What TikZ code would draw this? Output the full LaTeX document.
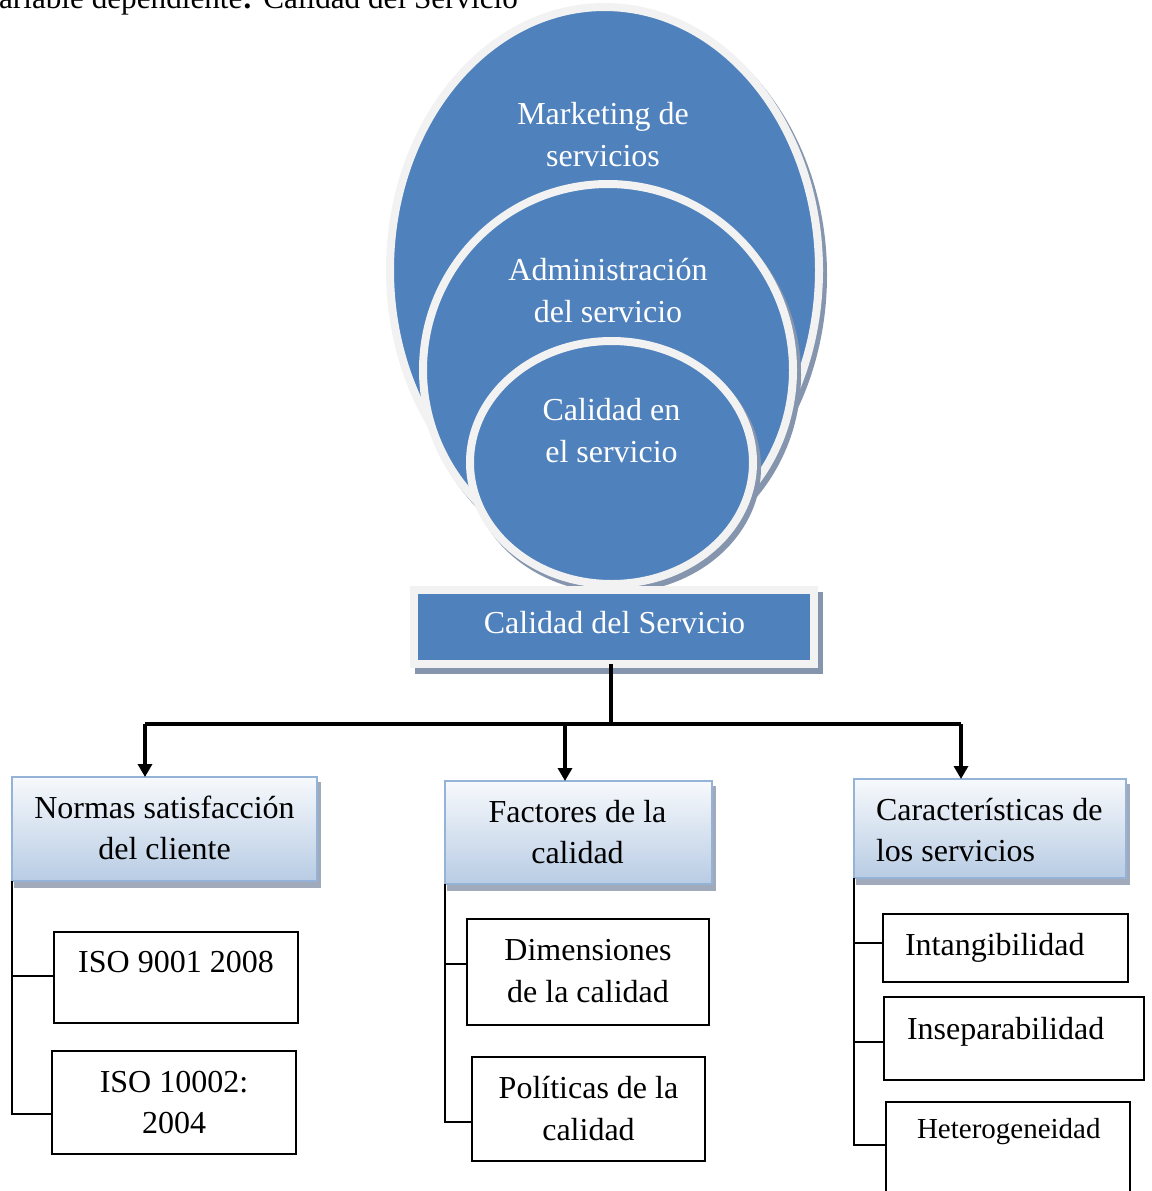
\documentclass[tikz,border=0pt]{standalone}
\usepackage{fontspec}
\setmainfont{Liberation Serif}
\usetikzlibrary{arrows.meta,shapes.geometric}
\definecolor{smblue}{HTML}{4F81BD}
\definecolor{smrim}{HTML}{F2F2F2}
\definecolor{smshade}{HTML}{8595AD}
\definecolor{lvlborder}{HTML}{95B3D7}
\definecolor{lvltop}{HTML}{F7F9FC}
\definecolor{lvlbot}{HTML}{B8CCE4}
\definecolor{lvlshade}{HTML}{A0AABA}
\begin{document}
\begin{tikzpicture}[x=1pt,y=-1pt,
  every node/.style={inner sep=0pt,outer sep=0pt},
  txt/.style={font=\fontsize{32}{42}\selectfont,anchor=base},
  wtxt/.style={txt,text=white},
  ring/.style={ellipse,fill=smblue,draw=smrim,line width=8pt,
    preaction={fill=smshade,draw=smshade,line width=8pt,
      transform canvas={xshift=4pt,yshift=-5pt}}},
  hub/.style={rectangle,fill=smblue,draw=smrim,line width=8pt,
    preaction={fill=smshade,draw=smshade,line width=8pt,
      transform canvas={xshift=4.5pt,yshift=-5.5pt}}},
  lvl/.style={rectangle,anchor=north west,draw=lvlborder,line width=2.5pt,
    top color=lvltop,bottom color=lvlbot,
    preaction={fill=lvlshade,draw=lvlshade,line width=2.5pt,
      transform canvas={xshift=3pt,yshift=-6pt}}},
  leaf/.style={rectangle,anchor=north west,draw=black,line width=2.5pt,fill=white},
  trunk/.style={draw=black,line width=3.5pt},
  arr/.style={trunk,-{Triangle[width=14pt,length=13pt]}},
  tree/.style={draw=black,line width=2pt},
]
\useasboundingbox (0,0) rectangle (1151,1191);

% heading line, partly outside the page
\node[txt,anchor=base west,font=\fontsize{31.2}{40}\selectfont] (title) at (-20,9)
  {Variable dependiente\textbf{:} Calidad del Servicio};

% nested circles
\node[ring,minimum width=429pt,minimum height=526pt] (mkt) at (604.5,270) {};
\node[ring,minimum width=370pt,minimum height=372pt] (adm) at (608,370) {};
\node[ring,minimum width=283pt,minimum height=243pt] (cal) at (611.5,462.5) {};

\node[wtxt] (mkt1) at (603,124) {Marketing de};
\node[wtxt] (mkt2) at (603,166) {servicios};
\node[wtxt] (adm1) at (608,280) {Administración};
\node[wtxt] (adm2) at (608,322) {del servicio};
\node[wtxt] (cal1) at (611.5,420) {Calidad en};
\node[wtxt] (cal2) at (611.5,462) {el servicio};

% connectors from the central box
\coordinate (bar)  at (611,724);
\coordinate (barL) at (145,724);
\coordinate (barM) at (565,724);
\coordinate (barR) at (961,724);

% central box
\node[hub,minimum width=400pt,minimum height=74pt] (cds) at (614,627) {};
\node[wtxt] (cdst) at (614.5,633) {Calidad del Servicio};

% second level boxes
\node[lvl,minimum width=305pt,minimum height=104pt] (nor) at (12,777) {};
\node[lvl,minimum width=267pt,minimum height=103pt] (fac) at (445,781) {};
\node[lvl,minimum width=272pt,minimum height=99pt]  (car) at (854,779) {};

\draw[trunk] (bar |- cds.south) -- (bar);
\draw[trunk] (barL) -- (barR);
\draw[arr] (barL) -- (barL |- nor.north);
\draw[arr] (barM) -- (barM |- fac.north);
\draw[arr] (barR) -- (barR |- car.north);

\node[txt] (nor1) at (164.5,818) {Normas satisfacción};
\node[txt] (nor2) at (164.5,859) {del cliente};
\node[txt] (fac1) at (577.5,822) {Factores de la};
\node[txt] (fac2) at (577.5,863) {calidad};
\node[txt,anchor=base west] (car1) at (876,820) {Características de};
\node[txt,anchor=base west] (car2) at (876,861) {los servicios};

% leaves
\node[leaf,minimum width=244pt,minimum height=91pt]  (iso1) at (54,932) {};
\node[leaf,minimum width=244pt,minimum height=103pt] (iso2) at (52,1051) {};
\node[leaf,minimum width=242pt,minimum height=106pt] (dim) at (467,919) {};
\node[leaf,minimum width=233pt,minimum height=104pt] (pol) at (472,1057) {};
\node[leaf,minimum width=245pt,minimum height=68pt]  (int) at (883,914) {};
\node[leaf,minimum width=260pt,minimum height=83pt]  (ins) at (884,997) {};
\node[leaf,minimum width=244pt,minimum height=120pt] (het) at (886,1102) {};

\node[txt] (iso1a) at (176,972) {ISO 9001 2008};
\node[txt] (iso2a) at (174,1092) {ISO 10002:};
\node[txt] (iso2b) at (174,1133) {2004};
\node[txt] (dim1) at (588,960) {Dimensiones};
\node[txt] (dim2) at (588,1002) {de la calidad};
\node[txt] (pol1) at (588.5,1098) {Políticas de la};
\node[txt] (pol2) at (588.5,1140) {calidad};
\node[txt,anchor=base west] (int1) at (905,955) {Intangibilidad};
\node[txt,anchor=base west] (ins1) at (907,1039) {Inseparabilidad};
\node[txt,anchor=base west,font=\fontsize{29}{38}\selectfont] (het1) at (917,1138) {Heterogeneidad};

% tree links
\draw[tree] (nor.south west) |- ([yshift=1.5pt]iso1.west);
\draw[tree] (nor.south west) |- ([yshift=-11.5pt]iso2.west);
\draw[tree] (fac.south west) |- ([yshift=8pt]dim.west);
\draw[tree] (fac.south west) |- ([yshift=-13pt]pol.west);
\draw[tree] (car.south west) |- ([yshift=5pt]int.west);
\draw[tree] (car.south west) |- ([yshift=-3pt]ins.west);
\draw[tree] (car.south west) |- (het.north west |- 0,1145);
\end{tikzpicture}
\end{document}
